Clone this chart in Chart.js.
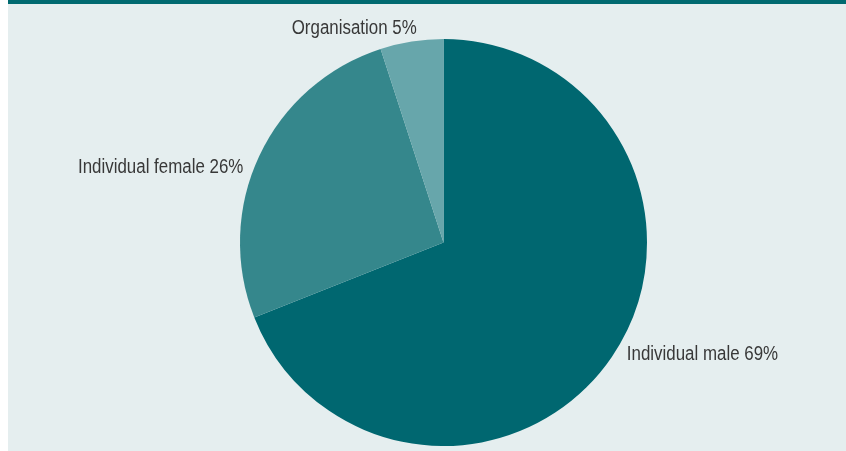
<!DOCTYPE html>
<html>
<head>
<meta charset="utf-8">
<script src="https://cdn.jsdelivr.net/npm/chart.js@4/dist/chart.umd.min.js"></script>
<style>
  html, body { margin: 0; padding: 0; background: #ffffff; }
  #wrap { position: relative; width: 846px; height: 451px; }
</style>
</head>
<body>
<div id="wrap"><canvas id="pie"></canvas></div>
<script>
// Data
const categories = ['Individual male', 'Individual female', 'Organisation'];
const shares = [69, 26, 5];
const sliceColors = ['#006770', '#35878c', '#67a6ab'];

// label placement relative to each slice's outer mid-point
const labelNudge = [
  { dx: 15, dy: -2, align: 'left' },
  { dx: -16, dy: 12, align: 'right' },
  { dx: 5, dy: -13, align: 'right' },
];

const backdrop = {
  id: 'backdrop',
  beforeDraw(chart) {
    const { ctx, width, height } = chart;
    ctx.save();
    ctx.fillStyle = '#ffffff';
    ctx.fillRect(0, 0, width, height);
    ctx.fillStyle = '#e5eeef';
    ctx.fillRect(8, 0, width - 8, height);
    ctx.fillStyle = '#006a70';
    ctx.fillRect(8, 0, width - 8, 4);
    ctx.restore();
  }
};

const sliceLabels = {
  id: 'sliceLabels',
  afterDatasetsDraw(chart) {
    const { ctx } = chart;
    const meta = chart.getDatasetMeta(0);
    meta.data.forEach((arc, i) => {
      const p = arc.getProps(['x', 'y', 'startAngle', 'endAngle', 'outerRadius'], true);
      const mid = (p.startAngle + p.endAngle) / 2;
      const x = p.x + Math.cos(mid) * p.outerRadius + labelNudge[i].dx;
      const y = p.y + Math.sin(mid) * p.outerRadius + labelNudge[i].dy;
      ctx.save();
      ctx.font = '20px "Liberation Sans", Arial, sans-serif';
      ctx.fillStyle = '#383838';
      ctx.textBaseline = 'middle';
      ctx.textAlign = labelNudge[i].align;
      // condensed look, like the original typeface
      ctx.translate(x, y);
      ctx.scale(0.845, 1);
      ctx.fillText(categories[i] + ' ' + shares[i] + '%', 0, 0);
      ctx.restore();
    });
  }
};

new Chart(document.getElementById('pie'), {
  type: 'pie',
  data: {
    labels: categories,
    datasets: [{
      data: shares,
      backgroundColor: sliceColors,
      borderWidth: 0,
    }]
  },
  options: {
    responsive: true,
    maintainAspectRatio: false,
    animation: false,
    layout: { padding: { top: 39, bottom: 5, left: 240, right: 199 } },
    plugins: {
      legend: { display: false },
      tooltip: { enabled: false },
    },
  },
  plugins: [backdrop, sliceLabels],
});
</script>
</body>
</html>
